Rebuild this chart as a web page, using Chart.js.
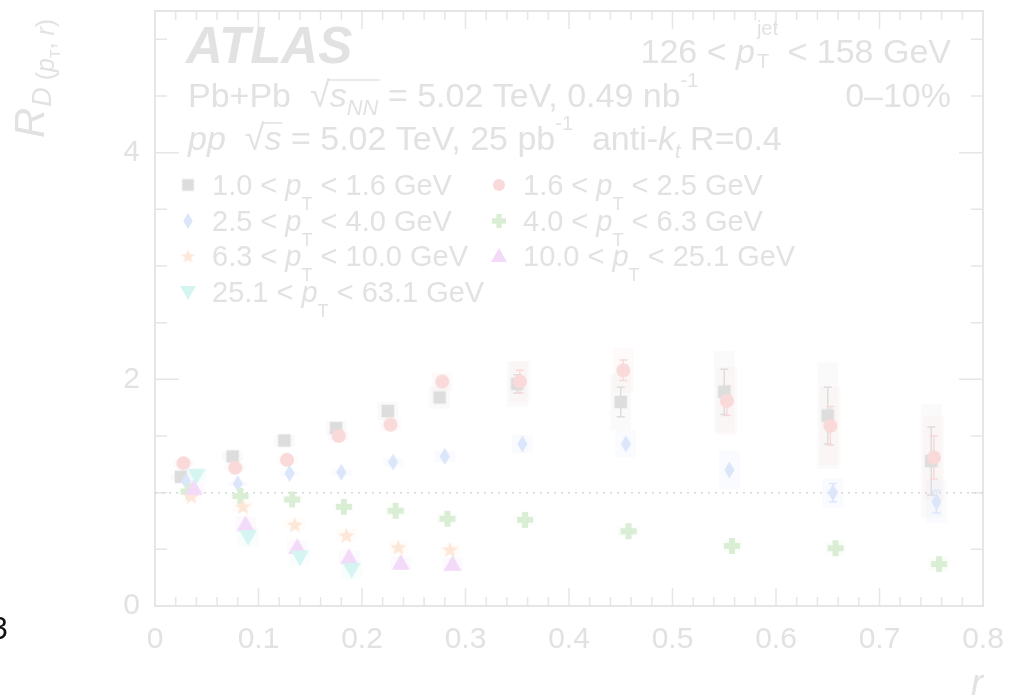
<!DOCTYPE html>
<html>
<head>
<meta charset="utf-8">
<script src="https://cdn.jsdelivr.net/npm/chart.js@4.4.1/dist/chart.umd.min.js"></script>
<style>
html, body { margin: 0; padding: 0; background: #fff; }
canvas { display: block; }
</style>
</head>
<body>
<canvas id="c" width="1013" height="700"></canvas>
<script>
// r bin centres
const binCenters = [0.025, 0.075, 0.125, 0.175, 0.225, 0.275, 0.35, 0.45, 0.55, 0.65, 0.75];
// track pT edges (GeV), used in the legend
const ptEdges = ['1.0', '1.6', '2.5', '4.0', '6.3', '10.0', '25.1', '63.1'];
const yTickLabels = [0, 2, 4];
const xTickLabels = [0, 0.1, 0.2, 0.3, 0.4, 0.5, 0.6, 0.7, 0.8];

// R_D values per track pT bin
const rdPt1 = [1.14, 1.32, 1.46, 1.57, 1.72, 1.84, 1.96, 1.80, 1.89, 1.68, 1.28];
const rdPt2 = [1.26, 1.22, 1.29, 1.50, 1.60, 1.98, 1.98, 2.08, 1.81, 1.59, 1.31];
const rdPt3 = [1.10, 1.08, 1.17, 1.18, 1.27, 1.32, 1.43, 1.43, 1.20, 1.00, 0.92];
const rdPt4 = [1.01, 0.97, 0.94, 0.875, 0.84, 0.77, 0.76, 0.66, 0.53, 0.51, 0.37];
const rdPt5 = [0.97, 0.88, 0.72, 0.625, 0.52, 0.50];
const rdPt6 = [1.04, 0.72, 0.52, 0.43, 0.38, 0.37];
const rdPt7 = [1.15, 0.61, 0.43, 0.32];

// statistical errors
const statPt1 = [0.01, 0.02, 0.02, 0.02, 0.03, 0.04, 0.08, 0.13, 0.2, 0.25, 0.3];
const statPt2 = [0.01, 0.01, 0.01, 0.02, 0.02, 0.03, 0.1, 0.09, 0.13, 0.17, 0.19];
const statPt3 = [0.01, 0.01, 0.01, 0.01, 0.01, 0.01, 0.02, 0.02, 0.03, 0.08, 0.1];
const statPt4 = [0.01, 0.01, 0.01, 0.01, 0.01, 0.01, 0.01, 0.01, 0.01, 0.02, 0.02];
const statPt5 = [0.01, 0.01, 0.01, 0.01, 0.01, 0.01];
const statPt6 = [0.01, 0.01, 0.01, 0.01, 0.01, 0.01];
const statPt7 = [0.01, 0.01, 0.01, 0.02];

// systematic errors
const sysPt1 = [0.03, 0.04, 0.05, 0.06, 0.08, 0.1, 0.2, 0.25, 0.36, 0.47, 0.5];
const sysPt2 = [0.03, 0.03, 0.03, 0.04, 0.05, 0.08, 0.18, 0.2, 0.3, 0.35, 0.37];
const sysPt3 = [0.02, 0.02, 0.02, 0.03, 0.04, 0.05, 0.08, 0.12, 0.17, 0.13, 0.19];
const sysPt4 = [0.03, 0.03, 0.03, 0.03, 0.04, 0.04, 0.05, 0.05, 0.05, 0.06, 0.06];
const sysPt5 = [0.04, 0.05, 0.05, 0.05, 0.05, 0.05];
const sysPt6 = [0.05, 0.07, 0.06, 0.06, 0.06, 0.06];
const sysPt7 = [0.06, 0.09, 0.07, 0.08];

const TXT = '#e2e2e2';
const LINE = '#e6e6e6';
const FAM = '"Liberation Sans", Arial, sans-serif';
const fn = s => s + 'px ' + FAM;
const fi = s => 'italic ' + s + 'px ' + FAM;

// build marker images
function makeMarker(shape, color, s) {
    const cv = document.createElement('canvas');
    const pad = 2;
    cv.width = cv.height = Math.ceil(s + pad * 2);
    const c = cv.getContext('2d');
    const m = cv.width / 2;
    const h = s / 2;
    c.fillStyle = color;
    c.beginPath();
    if (shape === 'square') {
        c.rect(m - h * 0.9, m - h * 0.9, h * 1.8, h * 1.8);
    } else if (shape === 'circle') {
        c.arc(m, m, h, 0, Math.PI * 2);
    } else if (shape === 'diamond') {
        c.moveTo(m, m - h); c.lineTo(m + h * 0.6, m); c.lineTo(m, m + h); c.lineTo(m - h * 0.6, m);
    } else if (shape === 'cross') {
        const t = h * 0.38;
        c.rect(m - h, m - t, 2 * h, 2 * t);
        c.rect(m - t, m - h, 2 * t, 2 * h);
    } else if (shape === 'star') {
        for (let k = 0; k < 10; k++) {
            const r = k % 2 === 0 ? h : h * 0.42;
            const a = -Math.PI / 2 + k * Math.PI / 5;
            const px = m + r * Math.cos(a), py = m + h * 0.1 + r * Math.sin(a);
            if (k === 0) c.moveTo(px, py); else c.lineTo(px, py);
        }
    } else if (shape === 'triUp') {
        c.moveTo(m, m - h); c.lineTo(m + h, m + h * 0.75); c.lineTo(m - h, m + h * 0.75);
    } else if (shape === 'triDown') {
        c.moveTo(m, m + h); c.lineTo(m + h, m - h * 0.75); c.lineTo(m - h, m - h * 0.75);
    }
    c.closePath();
    c.fill();
    return cv;
}

const seriesDefs = [
    { vals: rdPt1, stat: statPt1, sys: sysPt1, shape: 'square', color: '#dddddd', size: 14, lsize: 13 },
    { vals: rdPt2, stat: statPt2, sys: sysPt2, shape: 'circle', color: '#f9d9d9', size: 14, lsize: 12 },
    { vals: rdPt3, stat: statPt3, sys: sysPt3, shape: 'diamond', color: '#dbe6fb', size: 17, lsize: 16 },
    { vals: rdPt4, stat: statPt4, sys: sysPt4, shape: 'cross', color: '#daeed5', size: 16, lsize: 14 },
    { vals: rdPt5, stat: statPt5, sys: sysPt5, shape: 'star', color: '#fde7d8', size: 17, lsize: 15 },
    { vals: rdPt6, stat: statPt6, sys: sysPt6, shape: 'triUp', color: '#f3daf9', size: 18, lsize: 16 },
    { vals: rdPt7, stat: statPt7, sys: sysPt7, shape: 'triDown', color: '#d5f5f3', size: 18, lsize: 16 }
];

const datasets = seriesDefs.map((d, i) => ({
    label: ptEdges[i] + ' < pT < ' + ptEdges[i + 1] + ' GeV',
    data: d.vals.map((v, k) => ({ x: binCenters[k] + i * 0.0025, y: v, stat: d.stat[k], sys: d.sys[k] })),
    pointStyle: makeMarker(d.shape, d.color, d.size),
    showLine: false,
    order: -i,
    errColor: d.color
}));

function hexA(hex, a) {
    const n = parseInt(hex.slice(1), 16);
    return 'rgba(' + (n >> 16) + ',' + ((n >> 8) & 255) + ',' + (n & 255) + ',' + a + ')';
}

// rich text helper: parts drawn left to right, "over" stacks on previous part
function drawParts(ctx, x, y, parts, draw) {
    let segStart = x, segEnd = x, sqrtX = null;
    parts.forEach(p => {
        if (p.sqrtEnd) {
            if (draw) {
                ctx.save();
                ctx.strokeStyle = TXT;
                ctx.lineWidth = 1.5;
                ctx.beginPath();
                ctx.moveTo(sqrtX, y - 27);
                ctx.lineTo(segEnd + 1, y - 27);
                ctx.stroke();
                ctx.restore();
            }
            return;
        }
        ctx.font = p.f;
        const w = ctx.measureText(p.t).width;
        let px;
        if (p.over) {
            px = segStart;
            segEnd = Math.max(segEnd, px + w);
        } else {
            px = segEnd + (p.dx || 0);
            segStart = px;
            segEnd = px + w;
        }
        if (p.sqrtStart) sqrtX = px + w - 2;
        if (draw) ctx.fillText(p.t, px, y + (p.dy || 0));
    });
    return segEnd - x;
}

function drawRich(ctx, x, y, parts, align) {
    let x0 = x;
    if (align === 'right') x0 = x - drawParts(ctx, 0, y, parts, false);
    drawParts(ctx, x0, y, parts, true);
}

const errorPlugin = {
    id: 'errors',
    beforeDatasetsDraw(chart) {
        const ctx = chart.ctx;
        const xs = chart.scales.x, ys = chart.scales.y;
        const a = chart.chartArea;
        ctx.save();
        // frame
        ctx.strokeStyle = LINE;
        ctx.lineWidth = 2;
        ctx.strokeRect(a.left, a.top, a.right - a.left, a.bottom - a.top);
        // ticks
        ctx.lineWidth = 1.5;
        ctx.beginPath();
        for (let k = 0; k <= 40; k++) {
            const v = k * 0.02;
            const px = xs.getPixelForValue(v);
            const len = k % 5 === 0 ? 18 : 9;
            ctx.moveTo(px, a.bottom); ctx.lineTo(px, a.bottom - len);
            ctx.moveTo(px, a.top); ctx.lineTo(px, a.top + len);
        }
        for (let k = 0; k <= 10; k++) {
            const v = k * 0.5;
            const py = ys.getPixelForValue(v);
            const len = k % 4 === 0 ? 24 : 12;
            ctx.moveTo(a.left, py); ctx.lineTo(a.left + len, py);
            ctx.moveTo(a.right, py); ctx.lineTo(a.right - len, py);
        }
        ctx.stroke();
        // dotted line at unity
        ctx.strokeStyle = '#d8d8d8';
        ctx.lineWidth = 1.5;
        ctx.setLineDash([2, 5]);
        ctx.beginPath();
        ctx.moveTo(a.left, ys.getPixelForValue(1));
        ctx.lineTo(a.right, ys.getPixelForValue(1));
        ctx.stroke();
        ctx.setLineDash([]);
        // systematic boxes
        chart.data.datasets.forEach(ds => {
            ctx.fillStyle = hexA(ds.errColor, 0.14);
            ds.data.forEach(p => {
                const x1 = xs.getPixelForValue(p.x - 0.01), x2 = xs.getPixelForValue(p.x + 0.01);
                const y1 = ys.getPixelForValue(p.y + p.sys), y2 = ys.getPixelForValue(p.y - p.sys);
                ctx.fillRect(x1, y1, x2 - x1, y2 - y1);
            });
        });
        // statistical bars
        chart.data.datasets.forEach(ds => {
            ctx.strokeStyle = ds.errColor;
            ctx.lineWidth = 1.5;
            ds.data.forEach(p => {
                const px = xs.getPixelForValue(p.x);
                const y1 = ys.getPixelForValue(p.y + p.stat), y2 = ys.getPixelForValue(p.y - p.stat);
                if (y2 - y1 < 14) return;
                ctx.beginPath();
                ctx.moveTo(px, y1); ctx.lineTo(px, y2);
                ctx.moveTo(px - 4, y1); ctx.lineTo(px + 4, y1);
                ctx.moveTo(px - 4, y2); ctx.lineTo(px + 4, y2);
                ctx.stroke();
            });
        });
        ctx.restore();
    }
};

const textPlugin = {
    id: 'texts',
    afterDraw(chart) {
        const ctx = chart.ctx;
        ctx.save();
        ctx.fillStyle = TXT;
        ctx.textBaseline = 'alphabetic';

        ctx.font = 'italic bold 51px ' + FAM;
        ctx.fillText('ATLAS', 186, 63);

        drawRich(ctx, 951, 63, [
            { t: '126 < ', f: fn(34) },
            { t: 'p', f: fi(34) },
            { t: 'jet', f: fn(20), dy: -28, dx: 2 },
            { t: 'T', f: fn(20), dy: 5, over: true },
            { t: ' < 158 GeV', f: fn(34) }
        ], 'right');

        drawRich(ctx, 188, 107, [
            { t: 'Pb+Pb  ', f: fn(34) },
            { t: '\u221A', f: fn(36), sqrtStart: true },
            { t: 's', f: fi(34) },
            { t: 'NN', f: fi(22), dy: 8 },
            { sqrtEnd: true },
            { t: ' = 5.02 TeV, 0.49 nb', f: fn(34) },
            { t: '-1', f: fn(20), dy: -20 }
        ]);
        drawRich(ctx, 951, 107, [{ t: '0\u201310%', f: fn(34) }], 'right');

        drawRich(ctx, 188, 150, [
            { t: 'pp  ', f: fi(34) },
            { t: '\u221A', f: fn(36), sqrtStart: true },
            { t: 's', f: fi(34) },
            { sqrtEnd: true },
            { t: ' = 5.02 TeV, 25 pb', f: fn(34) },
            { t: '-1', f: fn(20), dy: -20 },
            { t: '  anti-', f: fn(34) },
            { t: 'k', f: fi(34) },
            { t: 't', f: fi(20), dy: 8 },
            { t: ' R=0.4', f: fn(34) }
        ]);

        // legend
        const colX = [188, 499];
        const rowY = [195, 231, 266, 302];
        seriesDefs.forEach((d, i) => {
            const cx = colX[i % 2], by = rowY[Math.floor(i / 2)];
            const img = makeMarker(d.shape, d.color, d.lsize);
            ctx.drawImage(img, cx - img.width / 2, by - 10 - img.height / 2);
            drawRich(ctx, cx + 24, by, [
                { t: ptEdges[i] + ' < ', f: fn(29) },
                { t: 'p', f: fi(29) },
                { t: 'T', f: fn(18), dy: 15 },
                { t: ' < ' + ptEdges[i + 1] + ' GeV', f: fn(29) }
            ]);
        });

        // y title
        ctx.save();
        ctx.translate(44, 138);
        ctx.rotate(-Math.PI / 2);
        drawRich(ctx, 0, 0, [
            { t: 'R', f: fi(42) },
            { t: 'D', f: fi(27), dy: 7, dx: 1 },
            { t: ' (', f: fn(25), dy: 10 },
            { t: 'p', f: fi(25), dy: 10 },
            { t: 'T', f: fn(14), dy: 16 },
            { t: ', ', f: fn(25), dy: 10 },
            { t: 'r', f: fi(25), dy: 10 },
            { t: ')', f: fn(25), dy: 10 }
        ]);
        ctx.restore();

        // x title
        ctx.font = fi(36);
        ctx.textAlign = 'right';
        ctx.fillText('r', 983, 695);

        // stray page number at the left edge
        ctx.fillStyle = '#111';
        ctx.textAlign = 'left';
        ctx.font = '30px "Noto Sans", sans-serif';
        ctx.fillText('3', -9, 639);
        ctx.restore();
    }
};

new Chart(document.getElementById('c'), {
    type: 'scatter',
    data: { datasets: datasets },
    options: {
        responsive: false,
        animation: false,
        layout: { padding: { top: 11, right: 30, left: 0, bottom: 0 } },
        plugins: { legend: { display: false }, tooltip: { enabled: false } },
        scales: {
            x: {
                type: 'linear', min: 0, max: 0.8,
                grid: { display: false }, border: { display: false },
                ticks: {
                    stepSize: 0.1, autoSkip: false, maxRotation: 0, padding: 8,
                    color: TXT, font: { family: FAM, size: 30 },
                    callback: v => v === 0 ? '0' : Number(v).toFixed(1)
                },
                afterBuildTicks: s => { s.ticks = xTickLabels.map(v => ({ value: v })); },
                afterFit: s => { s.height = 94; s.paddingLeft = 0; s.paddingRight = 0; }
            },
            y: {
                type: 'linear', min: 0, max: 5.25,
                grid: { display: false }, border: { display: false },
                ticks: { padding: 7, color: TXT, font: { family: FAM, size: 30 } },
                afterBuildTicks: s => { s.ticks = yTickLabels.map(v => ({ value: v })); },
                afterFit: s => { s.width = 155; s.paddingTop = 0; s.paddingBottom = 0; }
            }
        }
    },
    plugins: [errorPlugin, textPlugin]
});
</script>
</body>
</html>
